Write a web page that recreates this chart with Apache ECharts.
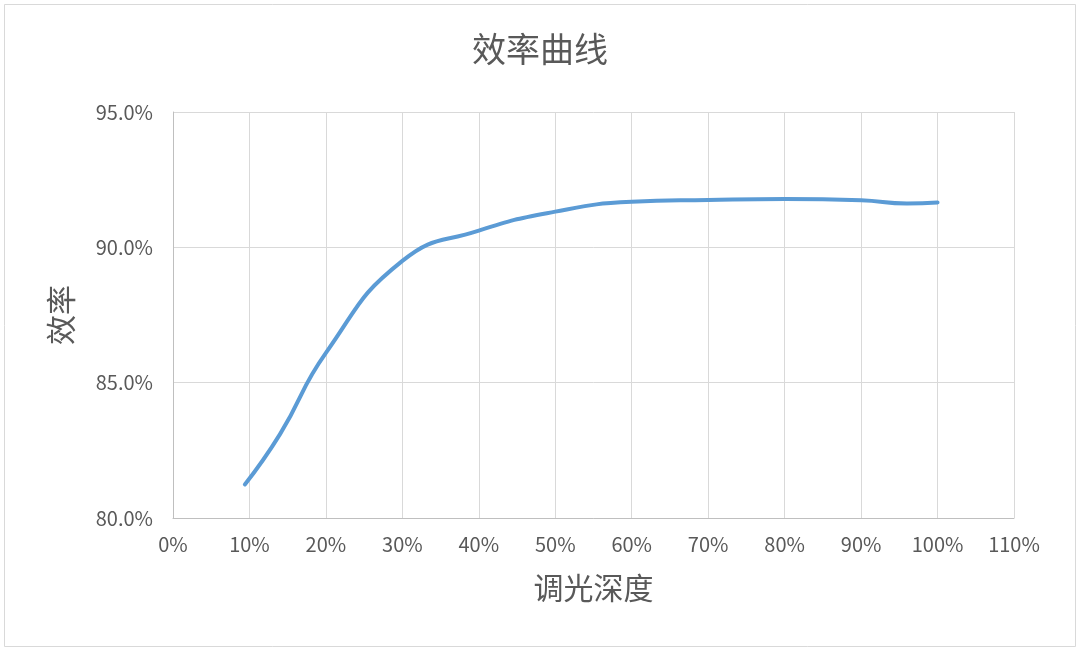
<!DOCTYPE html>
<html>
<head>
<meta charset="utf-8">
<script src="https://cdn.jsdelivr.net/npm/echarts@6/dist/echarts.min.js"></script>
<style>
html,body{margin:0;padding:0;background:#fff;}
#main{width:1080px;height:651px;}
</style>
</head>
<body>
<div id="main"></div>
<script>
// Data
const depth = [9.4, 14, 20, 30, 40, 50, 60, 70, 80, 90, 96, 100];
const efficiency = [81.24, 83.1, 86.1, 89.5, 90.62, 91.32, 91.68, 91.75, 91.79, 91.74, 91.62, 91.66];
const xTicks = [0, 10, 20, 30, 40, 50, 60, 70, 80, 90, 100, 110];
const yTicks = [80, 85, 90, 95];

const points = depth.map((d, i) => [d, efficiency[i]]);
const textColor = '#595959';
const fontCJK = '"Noto Sans CJK SC", "Noto Sans", sans-serif';

const chart = echarts.init(document.getElementById('main'), null, {renderer: 'canvas'});
chart.setOption({
  backgroundColor: '#ffffff',
  animation: false,
  title: {
    text: '效率曲线',
    left: 'center',
    top: 27,
    textStyle: {color: textColor, fontSize: 34, fontWeight: 'normal', fontFamily: fontCJK}
  },
  graphic: [{
    type: 'rect',
    shape: {x: 4.5, y: 4.5, width: 1071, height: 642},
    style: {fill: 'none', stroke: '#d9d9d9', lineWidth: 1},
    silent: true
  }],
  grid: {left: 173, right: 66, top: 112, bottom: 133, containLabel: false},
  xAxis: {
    type: 'value',
    min: xTicks[0],
    max: xTicks[xTicks.length - 1],
    interval: 10,
    name: '调光深度',
    nameLocation: 'middle',
    nameGap: 55,
    nameTextStyle: {color: textColor, fontSize: 30, fontFamily: fontCJK},
    axisLine: {show: true, lineStyle: {color: '#bfbfbf', width: 1}},
    axisTick: {show: false},
    axisLabel: {color: textColor, fontSize: 20, fontFamily: fontCJK, margin: 16, formatter: '{value}%'},
    splitLine: {show: true, lineStyle: {color: '#d9d9d9', width: 1}}
  },
  yAxis: {
    type: 'value',
    min: yTicks[0],
    max: yTicks[yTicks.length - 1],
    interval: 5,
    name: '效率',
    nameLocation: 'middle',
    nameGap: 97,
    nameRotate: 90,
    nameTextStyle: {color: textColor, fontSize: 30, fontFamily: fontCJK},
    axisLine: {show: true, lineStyle: {color: '#bfbfbf', width: 1}},
    axisTick: {show: false},
    axisLabel: {color: textColor, fontSize: 20, fontFamily: fontCJK, margin: 20,
      formatter: v => v.toFixed(1) + '%'},
    splitLine: {show: true, lineStyle: {color: '#d9d9d9', width: 1}}
  },
  series: [{
    type: 'line',
    data: points,
    smooth: 0.5,
    showSymbol: false,
    lineStyle: {color: '#5b9bd5', width: 4, cap: 'round'},
    itemStyle: {color: '#5b9bd5'}
  }]
});
</script>
</body>
</html>
